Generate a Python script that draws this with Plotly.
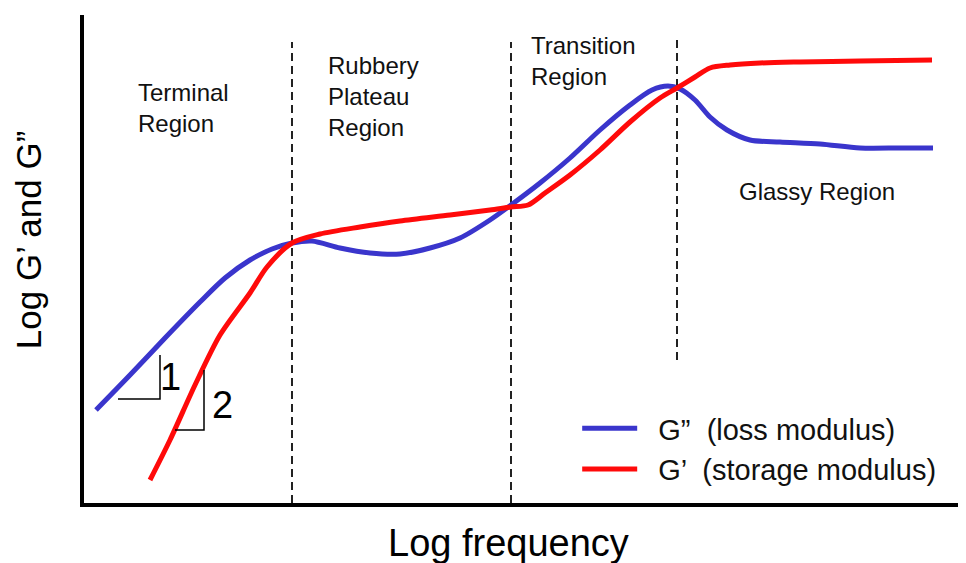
import plotly.graph_objects as go

# Log frequency (arbitrary units) and log moduli (arbitrary units)
freq_loss = [16, 50, 85, 120, 145, 170, 192, 212, 232, 260, 290, 320, 350, 380, 410, 431, 460,
             490, 520, 550, 572, 588, 600, 615, 630, 647, 670, 700, 740, 780, 820, 853]
g_loss = [93, 128, 165, 201, 225, 243, 254, 260, 262, 255, 250, 249, 255, 265, 283, 298, 320,
          345, 373, 398, 413, 417, 414, 403, 386, 373, 363, 361, 359, 355, 355, 355]

freq_storage = [70, 90, 115, 140, 170, 187, 212, 240, 280, 320, 370, 410, 431, 448, 465,
                490, 520, 550, 580, 597, 615, 630, 650, 680, 720, 780, 852]
g_storage = [23, 63, 118, 168, 210, 236, 260, 269, 276, 282, 288, 293, 296, 298, 310,
             328, 353, 381, 405, 415, 426, 435, 438, 440, 441, 442, 443]

# Region boundaries (log frequency) with vertical extent
boundary_x = [212, 431, 597]
boundary_ylo = [0, 0, 143]
boundary_yhi = [461, 461, 468]

# Slope markers: horizontal then vertical leg, with label
slope1 = dict(x=[38, 80, 80], y=[104, 104, 148], label="1", lx=90, ly=126)
slope2 = dict(x=[95, 124, 124], y=[73, 73, 133], label="2", lx=142, ly=98)

region_labels = [
    ("Terminal<br>Region", 56, 395),
    ("Rubbery<br>Plateau<br>Region", 246, 407),
    ("Transition<br>Region", 449, 442),
    ("Glassy Region", 657, 312),
]

BLUE = "#3a35cc"
RED = "#ff0a0a"

fig = go.Figure()

for bx, lo, hi in zip(boundary_x, boundary_ylo, boundary_yhi):
    fig.add_trace(go.Scatter(x=[bx, bx], y=[lo, hi], mode="lines",
                             line=dict(color="#222222", width=2, dash="8px,5px"),
                             showlegend=False, hoverinfo="skip"))

fig.add_trace(go.Scatter(x=freq_loss, y=g_loss, mode="lines",
                         name="\u00a0\u00a0G\u201d  (loss modulus)",
                         line=dict(color=BLUE, width=5, shape="spline", smoothing=0.8)))
fig.add_trace(go.Scatter(x=freq_storage, y=g_storage, mode="lines",
                         name="\u00a0\u00a0G\u2019  (storage modulus)",
                         line=dict(color=RED, width=5, shape="spline", smoothing=0.8)))

for s in (slope1, slope2):
    fig.add_trace(go.Scatter(x=s["x"], y=s["y"], mode="lines",
                             line=dict(color="black", width=1.5),
                             showlegend=False, hoverinfo="skip"))
    fig.add_annotation(x=s["lx"], y=s["ly"], text=s["label"], showarrow=False,
                       xanchor="center", yanchor="middle",
                       font=dict(size=38, color="black"))

for txt, x, y in region_labels:
    fig.add_annotation(x=x, y=y, text=txt, showarrow=False, align="left",
                       xanchor="left", yanchor="middle",
                       font=dict(size=24, color="#111111"))

# Axis titles
fig.add_annotation(xref="paper", yref="paper", x=0.485, y=-0.082, text="Log frequency",
                   showarrow=False, xanchor="center", yanchor="middle",
                   font=dict(size=38, color="black"))
fig.add_annotation(xref="paper", yref="paper", x=-0.0625, y=0.539, text="Log G\u2019 and G\u201d",
                   textangle=-90, showarrow=False, xanchor="center", yanchor="middle",
                   font=dict(size=35, color="black"))

fig.update_layout(
    width=958, height=555,
    margin=dict(l=76, r=6, t=7, b=60),
    paper_bgcolor="white", plot_bgcolor="white",
    font=dict(family="Liberation Sans, Arial, sans-serif", color="black"),
    xaxis=dict(range=[4, 880], showline=True, linewidth=4, linecolor="black",
               showgrid=False, zeroline=False, showticklabels=False, ticks=""),
    yaxis=dict(range=[0, 488], showline=True, linewidth=4, linecolor="black",
               showgrid=False, zeroline=False, showticklabels=False, ticks=""),
    legend=dict(x=0.563, y=0.205, xanchor="left", yanchor="top",
                font=dict(size=29, color="#111111"), bgcolor="rgba(0,0,0,0)",
                itemwidth=55, tracegroupgap=0),
    showlegend=True,
)

fig.write_html("out.html")
